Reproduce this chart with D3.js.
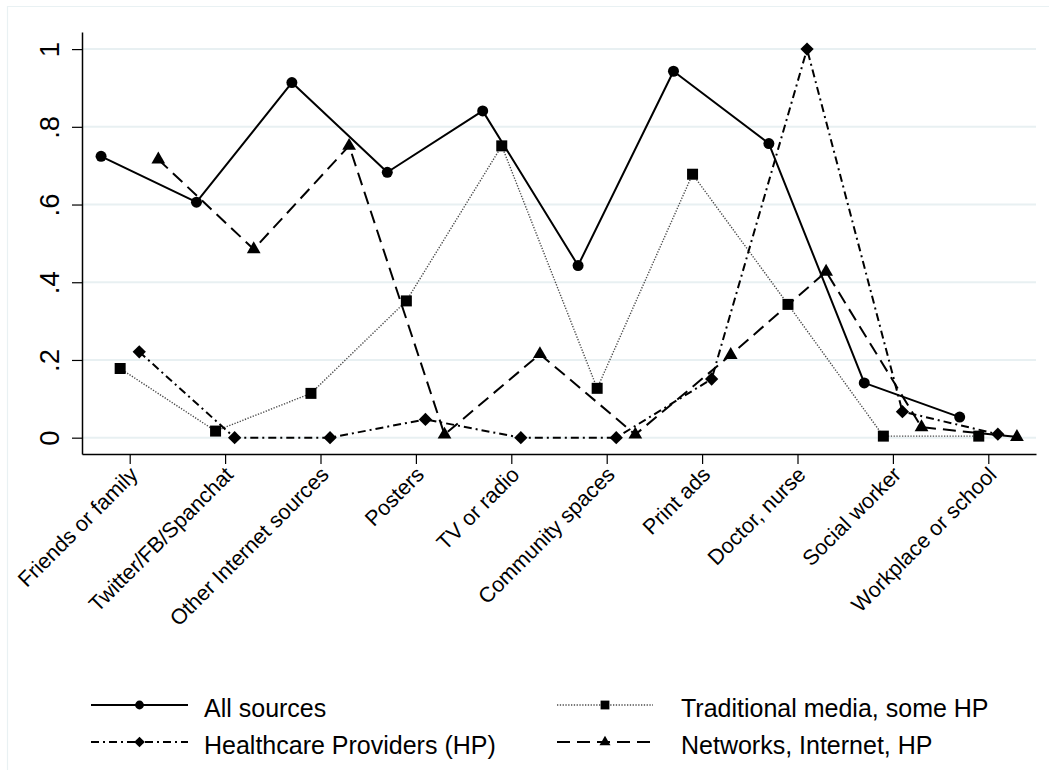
<!DOCTYPE html>
<html>
<head>
<meta charset="utf-8">
<script src="https://cdn.jsdelivr.net/npm/d3@7"></script>
<style>
  html, body { margin: 0; padding: 0; background: #fff; }
  svg { display: block; font-family: "Liberation Sans", Arial, sans-serif; }
</style>
</head>
<body>
<svg id="chart" width="1049" height="770"></svg>
<script>
// Information sources, share of respondents by source group
const categories = [
  "Friends or family", "Twitter/FB/Spanchat", "Other Internet sources", "Posters",
  "TV or radio", "Community spaces", "Print ads", "Doctor, nurse",
  "Social worker", "Workplace or school"
];
const allSources   = [0.724, 0.606, 0.914, 0.683, 0.841, 0.443, 0.943, 0.757, 0.141, 0.053];
const traditional  = [0.178, 0.017, 0.114, 0.352, 0.751, 0.127, 0.678, 0.343, 0.004, 0.004];
const healthcare   = [0.221, 0.000, 0.000, 0.047, 0.000, 0.000, 0.151, 1.000, 0.067, 0.009];
const networks     = [0.716, 0.485, 0.751, 0.008, 0.215, 0.008, 0.213, 0.427, 0.027, 0.002];
const seriesNames  = ["All sources", "Traditional media, some HP", "Healthcare Providers (HP)", "Networks, Internet, HP"];
const yTicks       = [0, 0.2, 0.4, 0.6, 0.8, 1];
const yTickLabels  = ["0", ".2", ".4", ".6", ".8", "1"];

// Per-series drawing styles
const styles = [
  { values: allSources,  offset: -0.3, shape: "circle",   dash: null,        width: 2,   color: "#000" },
  { values: traditional, offset: -0.1, shape: "square",   dash: "1.3,1.5",   width: 1.4, color: "#4a4a4a" },
  { values: healthcare,  offset:  0.1, shape: "diamond",  dash: "8,4,2,4",   width: 2,   color: "#000" },
  { values: networks,    offset:  0.3, shape: "triangle", dash: "13,7",      width: 2,   color: "#000" }
];

const svg = d3.select("#chart");
const plot = { left: 82, right: 1036, top: 32, bottom: 454 };

const x = d3.scaleLinear().domain([0.5, 10.5]).range([plot.left, plot.right]);
const y = d3.scaleLinear().domain([-0.042, 1.044]).range([plot.bottom, plot.top]);

// Outer graph-region frame (top and left edges)
svg.append("line").attr("x1", 7).attr("x2", 1049).attr("y1", 6.5).attr("y2", 6.5)
  .attr("stroke", "#e9f1f3").attr("stroke-width", 1.2);
svg.append("line").attr("x1", 7.5).attr("x2", 7.5).attr("y1", 6).attr("y2", 770)
  .attr("stroke", "#e9f1f3").attr("stroke-width", 1.2);

// Horizontal gridlines
svg.append("g").selectAll("line").data(yTicks).join("line")
  .attr("x1", plot.left).attr("x2", plot.right)
  .attr("y1", d => y(d)).attr("y2", d => y(d))
  .attr("stroke", "#e8f0f2").attr("stroke-width", 2);

// Y axis
const yAxis = svg.append("g").attr("transform", `translate(${plot.left},0)`)
  .call(d3.axisLeft(y).tickValues(yTicks).tickSize(10).tickSizeOuter(0)
    .tickFormat((d, i) => yTickLabels[i]));
yAxis.select(".domain").attr("stroke", "#000").attr("stroke-width", 1.5);
yAxis.selectAll(".tick line").attr("stroke", "#000").attr("stroke-width", 1.2);
yAxis.selectAll(".tick text")
  .attr("x", null).attr("dy", null)
  .attr("transform", "translate(-23,0) rotate(-90)")
  .attr("text-anchor", "middle")
  .attr("fill", "#000")
  .style("font-size", "27.5px")
  .style("font-family", "\"Liberation Sans\", Arial, sans-serif");

// X axis
const xAxis = svg.append("g").attr("transform", `translate(0,${plot.bottom})`)
  .call(d3.axisBottom(x).tickValues(d3.range(1, 11)).tickSize(10).tickSizeOuter(0)
    .tickFormat(d => categories[d - 1]));
xAxis.select(".domain").attr("stroke", "#000").attr("stroke-width", 1.5);
xAxis.selectAll(".tick line").attr("stroke", "#000").attr("stroke-width", 1.2);
xAxis.selectAll(".tick text")
  .attr("y", null).attr("dy", null)
  .attr("transform", "translate(9,22) rotate(-45)")
  .attr("text-anchor", "end")
  .attr("fill", "#000")
  .style("font-size", "21.5px")
  .style("font-family", "\"Liberation Sans\", Arial, sans-serif");

// Marker shapes
const diamondType = {
  draw(ctx, size) {
    const r = Math.sqrt(size / 2);
    ctx.moveTo(0, -r); ctx.lineTo(r, 0); ctx.lineTo(0, r); ctx.lineTo(-r, 0); ctx.closePath();
  }
};
function markerPath(shape, scale) {
  const s = scale || 1;
  if (shape === "circle")   return d3.symbol(d3.symbolCircle, 95 * s * s)();
  if (shape === "square")   return d3.symbol(d3.symbolSquare, 121 * s * s)();
  if (shape === "diamond")  return d3.symbol(diamondType, 88 * s * s)();
  return d3.symbol(d3.symbolTriangle, 82 * s * s)();
}

// Series lines and markers
styles.forEach(st => {
  const pts = st.values.map((v, i) => [x(i + 1 + st.offset), y(v)]);
  svg.append("path")
    .attr("d", d3.line()(pts))
    .attr("fill", "none")
    .attr("stroke", st.color)
    .attr("stroke-width", st.width)
    .attr("stroke-dasharray", st.dash)
    .attr("stroke-linejoin", "round");
  svg.append("g").selectAll("path").data(st.values).join("path")
    .attr("d", markerPath(st.shape))
    .attr("transform", (v, i) => `translate(${x(i + 1 + st.offset)},${y(v)})`)
    .attr("fill", "#000");
});

// Legend: two columns, two rows
const legendPos = [
  { x1: 91,  x2: 188, tx: 204, row: 705, base: 717 },
  { x1: 557, x2: 653, tx: 681, row: 705, base: 717 },
  { x1: 91,  x2: 188, tx: 204, row: 742, base: 754 },
  { x1: 557, x2: 653, tx: 681, row: 742, base: 754 }
];
const legend = svg.append("g");
styles.forEach((st, i) => {
  const p = legendPos[i];
  legend.append("line")
    .attr("x1", p.x1).attr("x2", p.x2).attr("y1", p.row).attr("y2", p.row)
    .attr("stroke", st.color).attr("stroke-width", st.width)
    .attr("stroke-dasharray", st.dash);
  legend.append("path")
    .attr("d", markerPath(st.shape, 0.8))
    .attr("transform", `translate(${(p.x1 + p.x2) / 2},${p.row})`)
    .attr("fill", "#000");
  legend.append("text")
    .attr("x", p.tx).attr("y", p.base)
    .attr("fill", "#000")
    .style("font-size", "25px")
    .text(seriesNames[i]);
});
</script>
</body>
</html>
